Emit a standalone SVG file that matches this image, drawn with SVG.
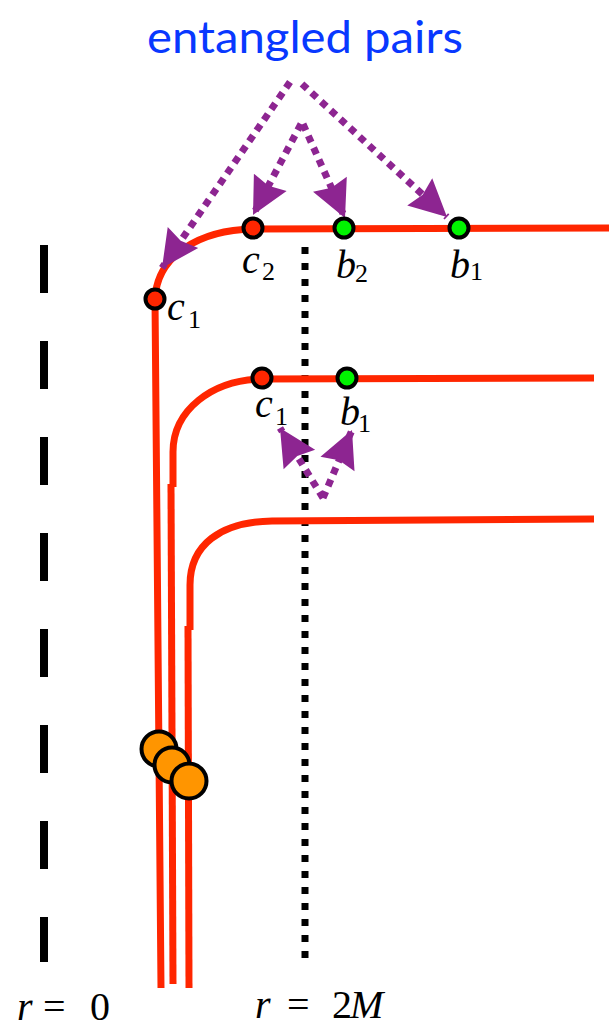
<svg xmlns="http://www.w3.org/2000/svg" width="609" height="1033" viewBox="0 0 609 1033">
<style>
.wl{fill:none;stroke:#FF2600;stroke-width:7;stroke-linejoin:round}
.ent{fill:none;stroke:#8D2591;stroke-width:7;stroke-dasharray:7 6}
.pt{stroke:#000;stroke-width:4}
.red{fill:#FF2600}
.grn{fill:#00F400}
.org{fill:#FF9500;stroke:#000;stroke-width:4}
</style>
<defs>
<marker id="ah" markerUnits="userSpaceOnUse" markerWidth="40" markerHeight="40" refX="0" refY="0" orient="auto" overflow="visible">
<path d="M0,0 L-37,-18.5 L-33,0 L-37,18.5 Z" fill="#8D2591"/>
</marker>
</defs>

<g id="axis-r0">
<line x1="44" y1="245" x2="44" y2="962" stroke="#000" stroke-width="8" stroke-dasharray="48 48"/>
</g>
<g id="horizon">
<line x1="305" y1="247" x2="305" y2="958" stroke="#000" stroke-width="7" stroke-dasharray="7 9"/>
</g>

<g id="worldlines">
<path class="wl" d="M609,228 L253,229 C200,230 157,255 155,299 L161,988"/>
<path class="wl" d="M594,378 L262,379 C212,380 173,410 173,452 L173,487"/>
<path class="wl" d="M171,484 L173,984"/>
<path class="wl" d="M594,519 L272,521 C220,522 190,545 190,585 L190,630"/>
<path class="wl" d="M188,626 L189,988"/>
</g>

<g id="title">
<text x="147" y="53" font-family="Lato,'Open Sans',sans-serif" font-size="44" fill="#0838FF" textLength="316" lengthAdjust="spacingAndGlyphs">entangled pairs</text>
</g>

<g id="connectors">
<path class="ent" d="M290,82 L162,268" marker-end="url(#ah)"/>
<path class="ent" d="M302,84 L447,217" marker-end="url(#ah)"/>
<path class="ent" d="M301,124 L253,215" marker-end="url(#ah)"/>
<path class="ent" d="M303,124 L345,218" marker-end="url(#ah)"/>
<path class="ent" d="M323,498 L280,428" marker-end="url(#ah)"/>
<path class="ent" d="M323,498 L352,430" marker-end="url(#ah)"/>
</g>

<g font-family="'Liberation Serif', 'Times New Roman', serif" font-size="40" font-style="italic" fill="#000">
<g id="node-c2"><circle class="pt red" cx="253" cy="228" r="9.5"/><text x="242" y="273">c<tspan font-style="normal" font-size="26" x="262" y="280">2</tspan></text></g>
<g id="node-b2"><circle class="pt grn" cx="344" cy="228" r="9.5"/><text x="336" y="278">b<tspan font-style="normal" font-size="26" x="355" y="282">2</tspan></text></g>
<g id="node-b1-top"><circle class="pt grn" cx="459" cy="228" r="9.5"/><text x="450" y="278">b<tspan font-style="normal" font-size="26" x="470" y="280">1</tspan></text></g>
<g id="node-c1-top"><circle class="pt red" cx="155" cy="299" r="9.5"/><text x="167" y="320">c<tspan font-style="normal" font-size="26" x="188" y="328">1</tspan></text></g>
<g id="node-c1"><circle class="pt red" cx="262" cy="378" r="9.5"/><text x="255" y="417">c<tspan font-style="normal" font-size="26" x="275" y="425">1</tspan></text></g>
<g id="node-b1"><circle class="pt grn" cx="347" cy="378" r="9.5"/><text x="340" y="425">b<tspan font-style="normal" font-size="26" x="358" y="432">1</tspan></text></g>
<g id="label-r0"><text x="17" y="1020">r<tspan font-style="normal" x="43">=</tspan><tspan font-style="normal" x="90">0</tspan></text></g>
<g id="label-r2M"><text x="255" y="1018">r<tspan font-style="normal" x="287">=</tspan><tspan font-style="normal" x="332">2</tspan><tspan x="350">M</tspan></text></g>
</g>

<g id="infalling">
<circle class="org" cx="159" cy="749" r="17.5"/>
<circle class="org" cx="172" cy="765" r="17.5"/>
<circle class="org" cx="189" cy="781" r="17.5"/>
</g>
</svg>
